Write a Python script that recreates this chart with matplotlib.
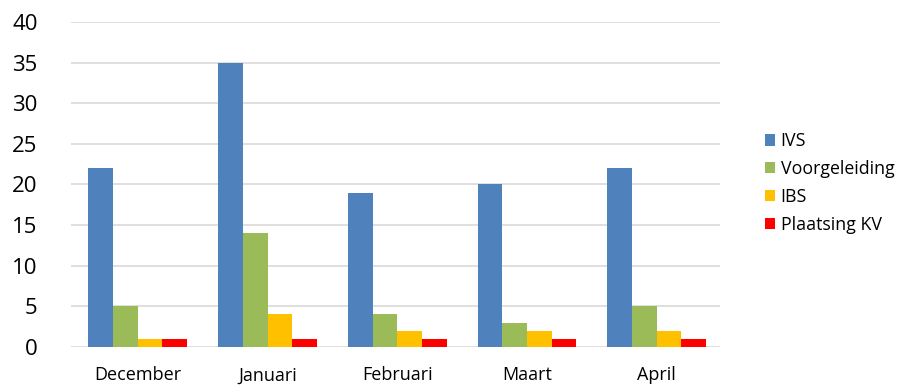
import matplotlib
matplotlib.use("Agg")
import matplotlib.pyplot as plt
import numpy as np

months = ["December", "Januari", "Februari", "Maart", "April"]
series_names = ["IVS", "Voorgeleiding", "IBS", "Plaatsing KV"]
ivs = [22, 35, 19, 20, 22]
voorgeleiding = [5, 14, 4, 3, 5]
ibs = [1, 4, 2, 2, 2]
plaatsing_kv = [1, 1, 1, 1, 1]
colors = ["#4F81BD", "#9BBB59", "#FFC000", "#FF0000"]

plt.rcParams["font.family"] = ["Open Sans", "DejaVu Sans"]

fig = plt.figure(figsize=(9.03, 3.85), dpi=100)
ax = fig.add_axes([0.0786, 0.0987, 0.7184, 0.8443])

x = np.arange(len(months))
bar_w = 0.19
data = [ivs, voorgeleiding, ibs, plaatsing_kv]
handles = []
for i, (vals, name, c) in enumerate(zip(data, series_names, colors)):
    h = ax.bar(x + (i - 1.5) * bar_w + 0.015, vals, width=bar_w, color=c,
               label=name, zorder=3)
    handles.append(h)

ax.set_xlim(-0.5, len(months) - 0.5)
ax.set_ylim(0, 40)
ax.set_yticks(range(0, 41, 5))
ax.set_xticks(x + 0.015)
ax.set_xticklabels(months, fontsize=13)
ax.tick_params(axis="y", labelsize=16, length=0, pad=24)
ax.tick_params(axis="x", length=0, pad=14)
ax.grid(axis="y", color="#D9D9D9", linewidth=1.2, zorder=0)
for s in ax.spines.values():
    s.set_visible(False)

fig.legend(handles=handles, labels=series_names, loc="center left",
           bbox_to_anchor=(0.837, 0.525), frameon=False, fontsize=12.8,
           handlelength=0.6, handleheight=0.6, handletextpad=0.3,
           labelspacing=0.55, borderpad=0)

fig.savefig("out.png", dpi=100)
